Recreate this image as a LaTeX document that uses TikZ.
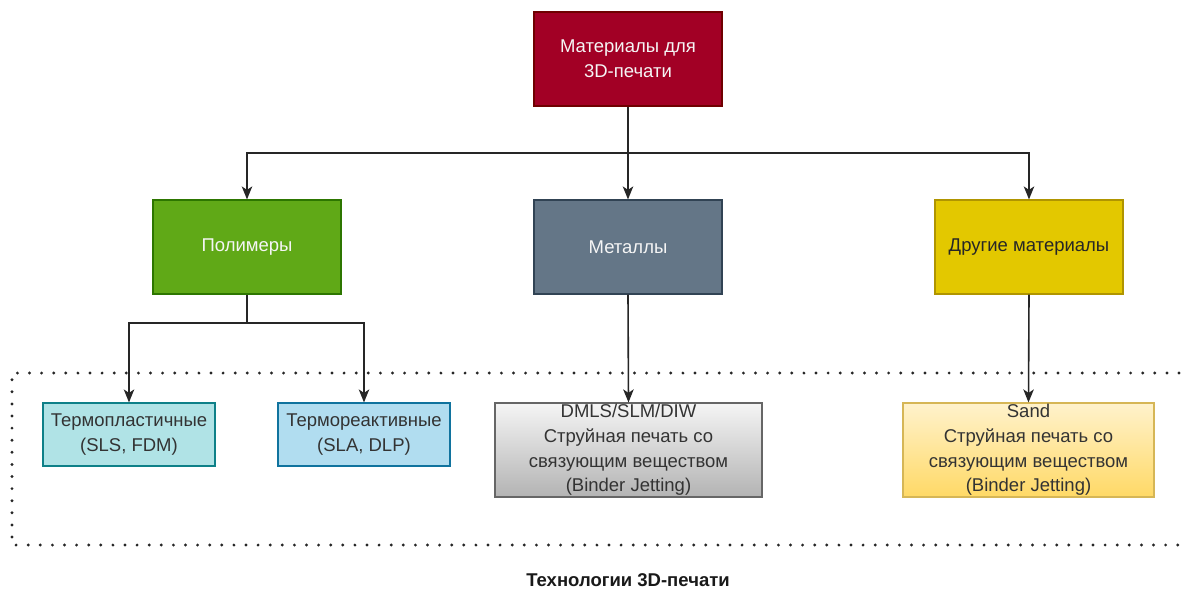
\documentclass[tikz,border=0pt]{standalone}
\usepackage{fontspec}
\setmainfont{Liberation Sans}
\usetikzlibrary{arrows.meta}
\definecolor{topfill}{HTML}{A20025}\definecolor{topline}{HTML}{6F0000}
\definecolor{polfill}{HTML}{60A917}\definecolor{polline}{HTML}{2D7600}
\definecolor{metfill}{HTML}{647687}\definecolor{metline}{HTML}{314354}
\definecolor{othfill}{HTML}{E3C800}\definecolor{othline}{HTML}{B09500}
\definecolor{tpfill}{HTML}{B0E3E6}\definecolor{tpline}{HTML}{0E8088}
\definecolor{trfill}{HTML}{B1DDF0}\definecolor{trline}{HTML}{10739E}
\definecolor{gtop}{HTML}{F5F5F5}\definecolor{gbot}{HTML}{B3B3B3}\definecolor{gline}{HTML}{666666}
\definecolor{ytop}{HTML}{FFF2CC}\definecolor{ybot}{HTML}{FFD966}\definecolor{yline}{HTML}{D6B656}
\definecolor{txt}{HTML}{333333}
\begin{document}
\begin{tikzpicture}[x=1pt,y=-1pt,
  box/.style={draw, line width=1.2pt, inner sep=0pt, align=center, font=\fontsize{18.5}{24.7}\selectfont},
  darkbox/.style={box, text=white!92!gray, minimum width=188pt, minimum height=94pt},
  leafbox/.style={box, text=txt},
  conn/.style={line width=1.6pt, draw=black!85, -{Stealth[length=13pt,width=10.5pt,inset=3.5pt]}},
  plain/.style={line width=1.6pt, draw=black!85}]
\clip (0,0) rectangle (1187,590);
\useasboundingbox (0,0) rectangle (1187,590);
\fill[white] (0,0) rectangle (1187,590);
% dotted frame
\draw[line width=3.2pt, line cap=round, dash pattern=on 0pt off 12.1pt, draw=black!85]
  (1179,373) -- (12,373) -- (12,545) -- (1179,545);
% nodes
\node[darkbox, fill=topfill, draw=topline] (root) at (628,59) {Материалы для\\3D-печати};
\node[darkbox, fill=polfill, draw=polline] (pol) at (247,247) {Полимеры};
\node[darkbox, fill=metfill, draw=metline] (met) at (628,247) {Металлы};
\node[darkbox, fill=othfill, draw=othline, text=black!85] (oth) at (1029,247) {Другие материалы};
\node[leafbox, fill=tpfill, draw=tpline, minimum width=172pt, minimum height=63pt] (tp) at (129,434.5) {Термопластичные\\(SLS, FDM)};
\node[leafbox, fill=trfill, draw=trline, minimum width=172pt, minimum height=63pt] (tr) at (364,434.5) {Термореактивные\\(SLA, DLP)};
\node[leafbox, top color=gtop, bottom color=gbot, draw=gline, minimum width=267pt, minimum height=94pt, text depth=4pt] (dm) at (628.5,450) {DMLS/SLM/DIW\\Струйная печать со\\связующим веществом\\(Binder Jetting)};
\node[leafbox, top color=ytop, bottom color=ybot, draw=yline, minimum width=251pt, minimum height=94pt, text depth=4pt] (sd) at (1028.5,450) {Sand\\Струйная печать со\\связующим веществом\\(Binder Jetting)};
\node[font=\bfseries\fontsize{18.5}{22}\selectfont, text=black!90] (cap) at (628,580) {Технологии 3D-печати};
% connectors
\coordinate (j1) at (628,153);
\coordinate (j2) at (247,323);
\draw[plain] (root.south) -- (j1);
\draw[conn] (j1) -| (pol.north);
\draw[conn] (j1) -- (met.north);
\draw[conn] (j1) -| (oth.north);
\draw[plain] (pol.south) -- (j2);
\draw[conn] (j2) -| (tp.north);
\draw[conn] (j2) -| (tr.north);
\draw[conn] (met.south) -- (dm.north);
\draw[conn] (oth.south) -- (sd.north);
\end{tikzpicture}
\end{document}
